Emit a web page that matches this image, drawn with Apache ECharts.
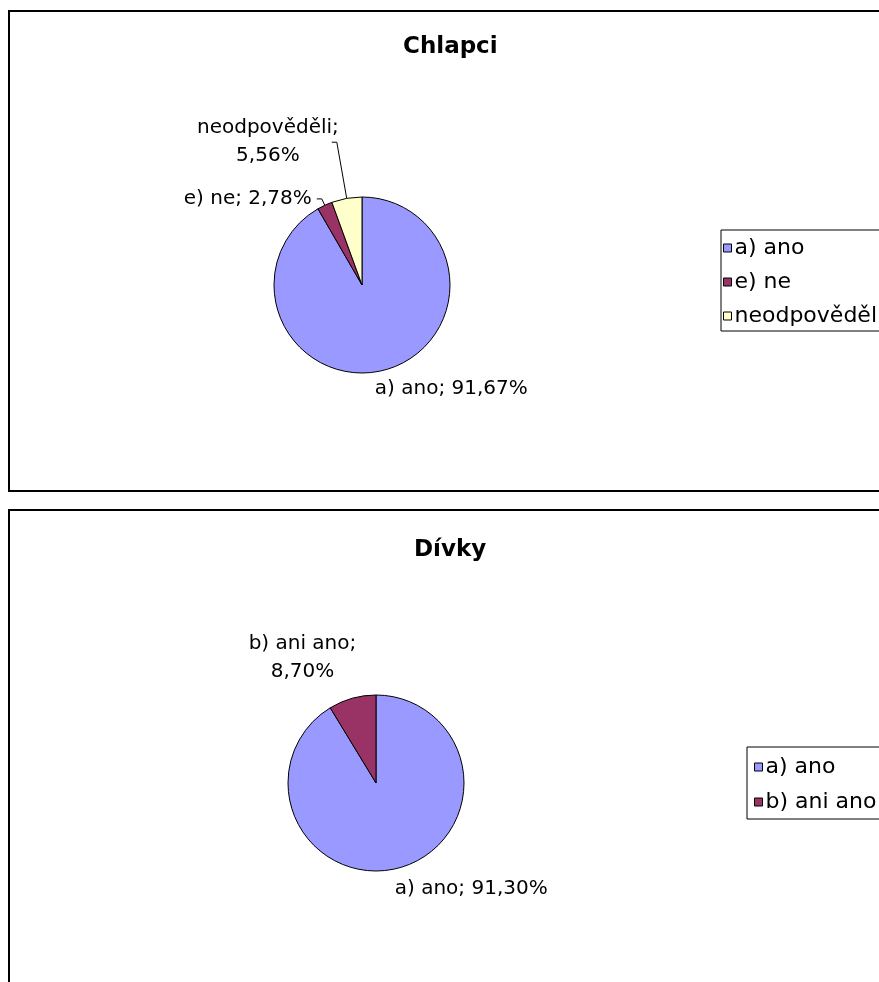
<!DOCTYPE html>
<html><head><meta charset="utf-8">
<script src="https://cdn.jsdelivr.net/npm/echarts@6/dist/echarts.min.js"></script>
<style>html,body{margin:0;padding:0;background:#fff}#c{width:879px;height:982px}</style>
</head><body><div id="c"></div>
<script>
// ---- data ----
const titles = ['Chlapci', 'Dívky'];
const boysCategories = ['a) ano', 'e) ne', 'neodpověděli'];
const boysValues = [91.67, 2.78, 5.56];
const girlsCategories = ['a) ano', 'b) ani ano'];
const girlsValues = [91.30, 8.70];

// ---- styling ----
const colorMap = {'a) ano': '#9999FF', 'e) ne': '#993366', 'neodpověděli': '#FFFFCC', 'b) ani ano': '#993366'};
const FONT = 'DejaVu Sans';
const boysLabelCfg = [
  {len: 0, len2: 0, line: false, dx: -15, dy: 19, multi: false},
  {len: 7, len2: 5, line: true, dx: 0, dy: 0, multi: false},
  {len: 57, len2: 5, line: true, dx: 12, dy: 0, multi: true}
];
const girlsLabelCfg = [
  {len: 0, len2: 0, line: false, dx: -10, dy: 21, multi: false},
  {len: 0, len2: 0, line: false, dx: 9, dy: -40, multi: true}
];
const titleCenterX = 450;

function fmt(v) { return v.toFixed(2).replace('.', ','); }

function makeSeries(names, values, cfg, center) {
  return {
    type: 'pie', center: center, radius: 88, startAngle: 90, clockwise: true,
    avoidLabelOverlap: false, animation: false, silent: true,
    emphasis: {disabled: true},
    itemStyle: {borderColor: '#000', borderWidth: 1},
    label: {
      show: true, position: 'outside', color: '#000', fontFamily: FONT, fontSize: 20,
      formatter: function (p) {
        const c = cfg[p.dataIndex];
        return c.multi ? '{c|' + p.name + ';}\n{c|' + fmt(p.value) + '%}'
                       : '{c|' + p.name + '; ' + fmt(p.value) + '%}';
      },
      rich: {c: {align: 'center', lineHeight: 28, fontSize: 20, fontFamily: FONT, color: '#000'}}
    },
    labelLine: {lineStyle: {color: '#000', width: 1}},
    labelLayout: function (p) { const c = cfg[p.dataIndex]; return {dx: c.dx, dy: c.dy}; },
    data: names.map(function (n, i) {
      return {
        name: n, value: values[i], itemStyle: {color: colorMap[n]},
        labelLine: {show: cfg[i].line, length: cfg[i].len, length2: cfg[i].len2}
      };
    })
  };
}

const titleStyle = {fontFamily: FONT, fontWeight: 'bold', fontSize: 23, color: '#000'};
function textWidth(t) {
  return echarts.format.getTextRect
    ? echarts.format.getTextRect(t, 'bold 23px "' + FONT + '"').width
    : t.length * 13;
}
function measure(t) {
  const cv = document.createElement('canvas').getContext('2d');
  cv.font = 'bold 23px "' + FONT + '"';
  return cv.measureText(t).width;
}

const chart = echarts.init(document.getElementById('c'), null, {renderer: 'canvas'});
const legendBase = {
  orient: 'vertical', icon: 'rect', itemWidth: 8, itemHeight: 8,
  borderColor: '#000', borderWidth: 1, backgroundColor: '#fff',
  itemStyle: {borderColor: '#000', borderWidth: 1},
  textStyle: {fontFamily: FONT, fontSize: 22, color: '#000', lineHeight: 22, padding: [0, 0, 0, -2]},
  selectedMode: false
};
chart.setOption({
  backgroundColor: '#fff',
  animation: false,
  graphic: [
    {type: 'rect', shape: {x: 9, y: 11, width: 900, height: 480}, style: {fill: null, stroke: '#000', lineWidth: 2}, silent: true, z: -1},
    {type: 'rect', shape: {x: 9, y: 510, width: 900, height: 500}, style: {fill: null, stroke: '#000', lineWidth: 2}, silent: true, z: -1}
  ],
  title: [
    {text: titles[0], left: Math.round(titleCenterX - measure(titles[0]) / 2), top: 36, padding: 0, textStyle: titleStyle},
    {text: titles[1], left: Math.round(titleCenterX - measure(titles[1]) / 2), top: 539, padding: 0, textStyle: titleStyle}
  ],
  legend: [
    Object.assign({}, legendBase, {data: boysCategories, left: 721, top: 230, itemGap: 12, padding: [7, 30, 4, 2]}),
    Object.assign({}, legendBase, {data: girlsCategories, left: 747, top: 747, itemGap: 13, padding: [9, 30, 6, 7]})
  ],
  series: [
    makeSeries(boysCategories, boysValues, boysLabelCfg, [362, 285]),
    makeSeries(girlsCategories, girlsValues, girlsLabelCfg, [376, 783])
  ]
});
</script>
</body></html>
